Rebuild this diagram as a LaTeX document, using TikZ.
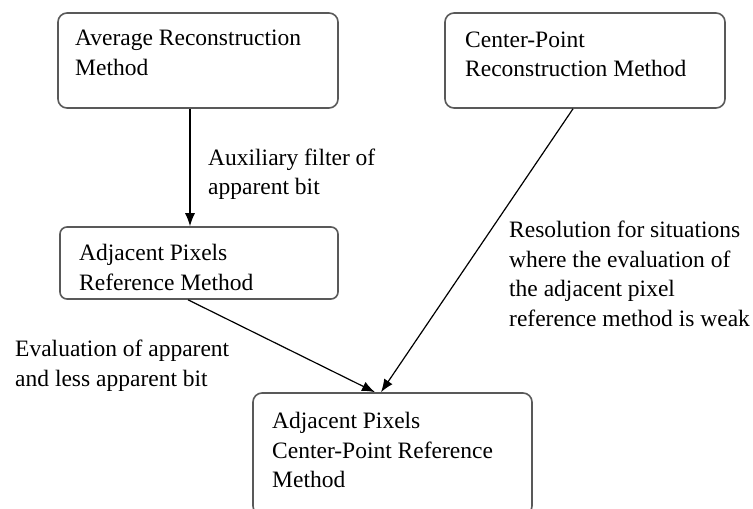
\documentclass[tikz,border=0pt]{standalone}
\usepackage{fontspec}
\newfontfamily\fa{Liberation Serif}
\usetikzlibrary{arrows.meta}
\tikzset{
  boxstyle/.style={draw=black!65, line width=1.6pt, rounded corners=9pt, inner sep=0pt},
  txt/.style={anchor=west, inner sep=0pt, text height=16pt, text depth=5pt, font=\fa\fontsize{23.5}{30}\selectfont},
  arr/.style={draw=black, line width=1.2pt, -{Latex[length=13pt,width=10pt]}}
}
\begin{document}
\begin{tikzpicture}[x=1pt,y=-1pt]
\useasboundingbox (0,0) rectangle (753,509);
% boxes
\node[boxstyle, minimum width=280pt, minimum height=95pt] (b1) at (198,60.5) {};
\node[boxstyle, minimum width=280pt, minimum height=95pt] (b2) at (585,60.5) {};
\node[boxstyle, rounded corners=7pt, minimum width=278pt, minimum height=72pt] (b3) at (199,263) {};
\node[boxstyle, minimum width=279pt, minimum height=122pt] (b4) at (392.5,454) {};
% box texts (y = baseline - 5.5)
\node[txt] (t1a) at (75,39.5) {Average Reconstruction};
\node[txt] (t1b) at (75,69.5) {Method};
\node[txt] (t2a) at (465,41.5) {Center-Point};
\node[txt] (t2b) at (465,70.5) {Reconstruction Method};
\node[txt] (t3a) at (79,254.5) {Adjacent Pixels};
\node[txt] (t3b) at (79,284.5) {Reference Method};
\node[txt] (t4a) at (272,422.5) {Adjacent Pixels};
\node[txt] (t4b) at (272,452.5) {Center-Point Reference};
\node[txt] (t4c) at (272,481.5) {Method};
% connector end points on the boxes
\coordinate (s1) at (b1.south -| 190,0);
\coordinate (e1) at (b3.north -| 190,0);
\coordinate (s2) at (b3.south -| 188,0);
\coordinate (e2) at (b4.north -| 375,0);
\coordinate (s3) at (b2.south -| 573,0);
\coordinate (e3) at (b4.north -| 381,0);
% connectors
\draw[arr] (s1) -- (e1);
\draw[arr] (s2) -- (e2);
\draw[arr] (s3) -- (e3);
% labels
\node[txt] (l1a) at (208,159.5) {Auxiliary filter of};
\node[txt] (l1b) at (208,188.5) {apparent bit};
\node[txt] (l2a) at (15,350.5) {Evaluation of apparent};
\node[txt] (l2b) at (15,380.5) {and less apparent bit};
\node[txt] (l3a) at (509,231.5) {Resolution for situations};
\node[txt] (l3b) at (509,261.5) {where the evaluation of};
\node[txt] (l3c) at (509,290.5) {the adjacent pixel};
\node[txt] (l3d) at (509,320.5) {reference method is weak};
\end{tikzpicture}
\end{document}
